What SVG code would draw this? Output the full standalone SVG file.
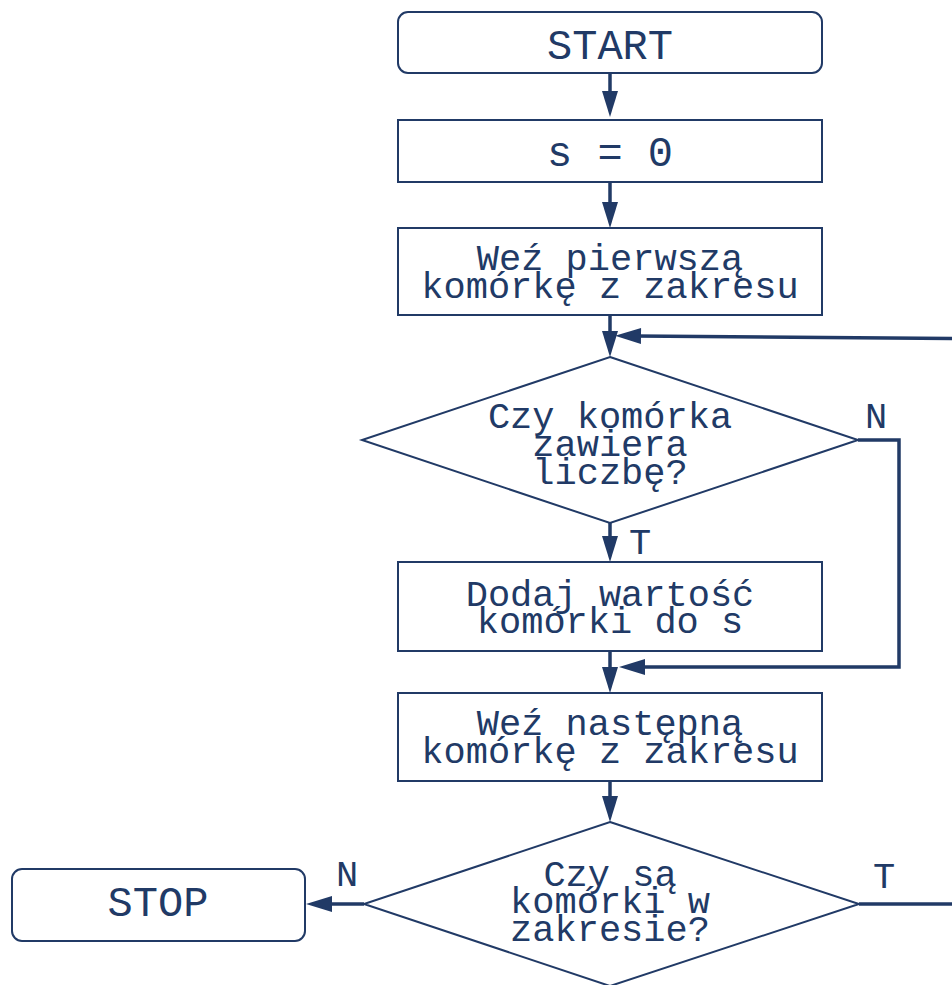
<svg xmlns="http://www.w3.org/2000/svg" width="952" height="985" viewBox="0 0 952 985">
<style>
.shape{fill:#ffffff;stroke:#213a66;stroke-width:2}
.t{font-family:"Liberation Mono","Courier New",monospace;fill:#213a66;text-anchor:middle;font-size:37px}
.big{font-size:42px}
.conn{fill:none;stroke:#213a66;stroke-width:3.5}
</style>
<defs>
<marker id="ah" markerUnits="userSpaceOnUse" markerWidth="26" markerHeight="16" refX="6" refY="8" orient="auto" overflow="visible">
<path d="M0,0 L26,8 L0,16 z" fill="#213a66"/>
</marker>
</defs>
<rect width="952" height="985" fill="#ffffff"/>
<g id="connectors">
<path class="conn" d="M610,73 V97" marker-end="url(#ah)"/>
<path class="conn" d="M610,182 V208" marker-end="url(#ah)"/>
<path class="conn" d="M610,315 V337" marker-end="url(#ah)"/>
<path class="conn" d="M952,338.5 L635,336" marker-end="url(#ah)"/>
<path class="conn" d="M610,523 V542" marker-end="url(#ah)"/>
<path class="conn" d="M610,651 V673" marker-end="url(#ah)"/>
<path class="conn" d="M858,440 H899 V667 H639" marker-end="url(#ah)"/>
<path class="conn" d="M610,781 V802" marker-end="url(#ah)"/>
<path class="conn" d="M364,904 H326" marker-end="url(#ah)"/>
<path class="conn" d="M859,904 H952"/>
<text class="t" x="876" y="428">N</text>
<text class="t" x="640" y="554">T</text>
<text class="t" x="347" y="886">N</text>
<text class="t" x="884" y="888">T</text>
</g>
<g id="start">
<rect class="shape" x="398" y="12" width="424" height="61" rx="10"/>
<text class="t big" x="610" y="59">START</text>
</g>
<g id="init">
<rect class="shape" x="398" y="120" width="424" height="62"/>
<text class="t big" x="610" y="166">s = 0</text>
</g>
<g id="first">
<rect class="shape" x="398" y="228" width="424" height="87"/>
<text class="t" x="610" y="270">Weź pierwszą</text>
<text class="t" x="610" y="298">komórkę z zakresu</text>
</g>
<g id="isnumber">
<polygon class="shape" points="610,357 858,440 610,523 362,440"/>
<text class="t" x="610" y="428">Czy komórka</text>
<text class="t" x="610" y="456">zawiera</text>
<text class="t" x="610" y="484">liczbę?</text>
</g>
<g id="add">
<rect class="shape" x="398" y="562" width="424" height="89"/>
<text class="t" x="610" y="606">Dodaj wartość</text>
<text class="t" x="610" y="633">komórki do s</text>
</g>
<g id="next">
<rect class="shape" x="398" y="693" width="424" height="88"/>
<text class="t" x="610" y="735">Weź następną</text>
<text class="t" x="610" y="763">komórkę z zakresu</text>
</g>
<g id="more">
<polygon class="shape" points="610,822 859,904 610,986 364,904"/>
<text class="t" x="610" y="886">Czy są</text>
<text class="t" x="610" y="913">komórki w</text>
<text class="t" x="610" y="941">zakresie?</text>
</g>
<g id="stop">
<rect class="shape" x="12" y="869" width="293" height="72" rx="10"/>
<text class="t big" x="158" y="916">STOP</text>
</g>
</svg>
